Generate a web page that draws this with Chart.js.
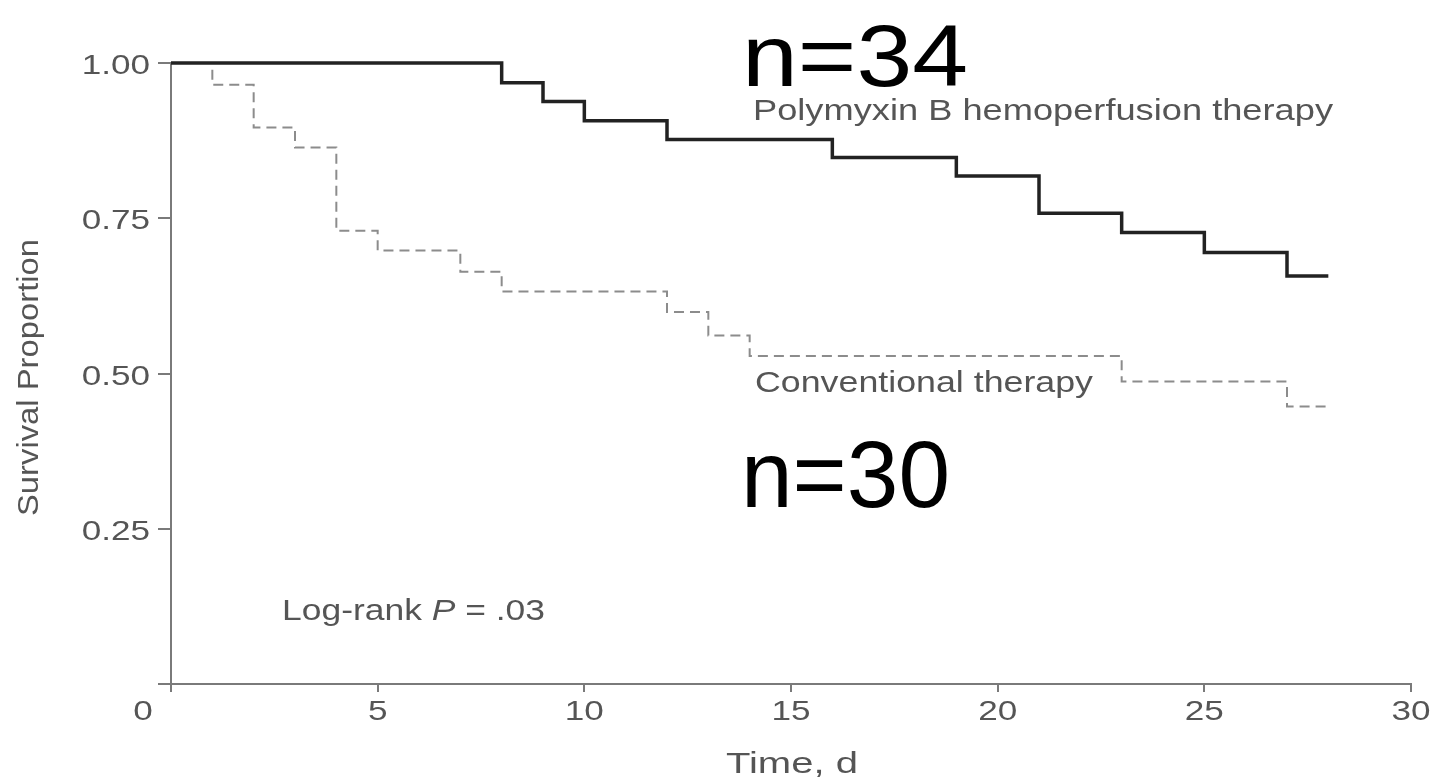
<!DOCTYPE html>
<html>
<head>
<meta charset="utf-8">
<script src="https://cdn.jsdelivr.net/npm/chart.js@4.4.1/dist/chart.umd.min.js"></script>
<style>
  html, body { margin: 0; padding: 0; background: #fff; }
</style>
</head>
<body>
<canvas id="myChart" width="1439" height="777"></canvas>
<script>
// Kaplan-Meier steps (day of event, survival after it)
const pmxDays = [0, 8, 9, 10, 12, 16, 19, 21, 23, 25, 27, 28];
const pmxSurvival = [1.00, 0.968, 0.938, 0.907, 0.877, 0.848, 0.818, 0.758, 0.727, 0.695, 0.657, 0.657];

const convDays = [0, 1, 2, 3, 4, 5, 7, 8, 12, 13, 14, 23, 27, 28];
const convSurvival = [1.00, 0.965, 0.896, 0.864, 0.730, 0.698, 0.664, 0.632, 0.599, 0.561, 0.528, 0.487, 0.447, 0.447];

const xTickValues = [0, 5, 10, 15, 20, 25, 30];
const xTickLabels = ['0', '5', '10', '15', '20', '25', '30'];
const yTickValues = [0.25, 0.50, 0.75, 1.00];
const yTickLabels = ['0.25', '0.50', '0.75', '1.00'];

const FONT = '"Liberation Sans", Arial, Helvetica, sans-serif';
const GREY_TEXT = '#555';
const AXIS = '#7a7a7a';

function toPoints(xs, ys) {
    return xs.map((x, i) => ({ x: x, y: ys[i] }));
}

// draw text stretched horizontally (the original type is wide)
function stretchText(ctx, text, x, y, size, sx, align, color, style) {
    ctx.save();
    ctx.font = (style || '') + ' ' + size + 'px ' + FONT;
    ctx.fillStyle = color;
    ctx.textAlign = align;
    ctx.textBaseline = 'alphabetic';
    ctx.translate(x, y);
    ctx.scale(sx, 1);
    ctx.fillText(text, 0, 0);
    ctx.restore();
}

// draw text from left edge so it fills a given width
function fitText(ctx, parts, left, baseline, size, width, color) {
    ctx.save();
    let natural = 0;
    parts.forEach(p => {
        ctx.font = (p.style || '') + ' ' + size + 'px ' + FONT;
        natural += ctx.measureText(p.text).width;
    });
    const sx = width / natural;
    ctx.translate(left, baseline);
    ctx.scale(sx, 1);
    ctx.fillStyle = color;
    ctx.textAlign = 'left';
    ctx.textBaseline = 'alphabetic';
    let cx = 0;
    parts.forEach(p => {
        ctx.font = (p.style || '') + ' ' + size + 'px ' + FONT;
        ctx.fillText(p.text, cx, 0);
        cx += ctx.measureText(p.text).width;
    });
    ctx.restore();
}

const textPlugin = {
    id: 'kmText',
    afterDraw(chart) {
        const ctx = chart.ctx;
        const xs = chart.scales.x;
        const ys = chart.scales.y;

        // y tick labels
        yTickValues.forEach((v, i) => {
            stretchText(ctx, yTickLabels[i], 150, ys.getPixelForValue(v) + 11, 27, 1.3, 'right', GREY_TEXT);
        });
        // x tick labels, the 0 is pushed left of the y axis
        xTickValues.forEach((v, i) => {
            let px = xs.getPixelForValue(v);
            if (v === 0) px -= 28;
            stretchText(ctx, xTickLabels[i], px, 720, 27, 1.3, 'center', GREY_TEXT);
        });

        // axis titles
        fitText(ctx, [{ text: 'Time, d' }], 726, 773, 29, 132, GREY_TEXT);
        ctx.save();
        ctx.translate(38, 378);
        ctx.rotate(-Math.PI / 2);
        fitText(ctx, [{ text: 'Survival Proportion' }], -138, 0, 29, 277, GREY_TEXT);
        ctx.restore();

        // curve labels
        fitText(ctx, [{ text: 'Polymyxin B hemoperfusion therapy' }], 753, 120, 29, 580, GREY_TEXT);
        fitText(ctx, [{ text: 'Conventional therapy' }], 755, 392, 29, 338, GREY_TEXT);
        fitText(ctx, [{ text: 'Log-rank ' }, { text: 'P', style: 'italic' }, { text: ' = .03' }], 282, 620, 29, 263, GREY_TEXT);

        // group sizes
        fitText(ctx, [{ text: 'n=34' }], 742, 86, 87, 226, '#000');
        fitText(ctx, [{ text: 'n=30' }], 741, 507, 95, 209, '#000');
    }
};

const ctx = document.getElementById('myChart').getContext('2d');
const myChart = new Chart(ctx, {
    type: 'line',
    data: {
        datasets: [{
            label: 'Polymyxin B hemoperfusion therapy',
            data: toPoints(pmxDays, pmxSurvival),
            stepped: true,
            borderColor: '#222',
            borderWidth: 3.5,
            pointRadius: 0,
            fill: false,
            clip: 8
        }, {
            label: 'Conventional therapy',
            data: toPoints(convDays, convSurvival),
            stepped: true,
            borderColor: '#8c8c8c',
            borderWidth: 2,
            borderDash: [10, 6],
            pointRadius: 0,
            fill: false,
            clip: 8
        }]
    },
    options: {
        responsive: false,
        animation: false,
        layout: { padding: { top: 63, right: 28, left: 0, bottom: 0 } },
        plugins: {
            legend: { display: false },
            tooltip: { enabled: false }
        },
        scales: {
            x: {
                type: 'linear',
                min: 0,
                max: 30,
                ticks: { stepSize: 5, display: false },
                grid: { drawOnChartArea: false, drawTicks: true, tickLength: 8, color: AXIS, lineWidth: 2 },
                border: { display: true, color: AXIS, width: 2 },
                afterFit(scale) { scale.height = 93; }
            },
            y: {
                min: 0,
                max: 1,
                ticks: { stepSize: 0.25, display: false },
                grid: { drawOnChartArea: false, drawTicks: true, tickLength: 13, color: AXIS, lineWidth: 2 },
                border: { display: true, color: AXIS, width: 2 },
                afterFit(scale) { scale.width = 171; }
            }
        }
    },
    plugins: [textPlugin]
});
</script>
</body>
</html>
